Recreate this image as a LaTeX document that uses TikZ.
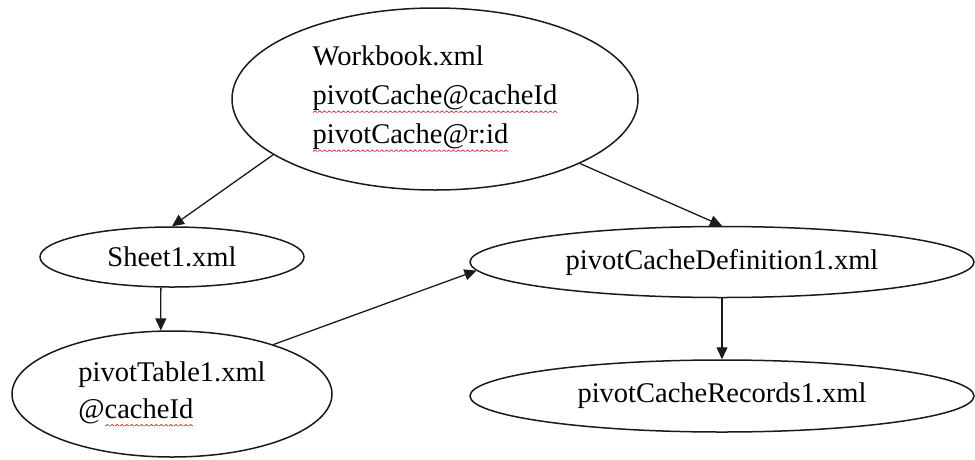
\documentclass[tikz,border=0pt]{standalone}
\usepackage{fontspec}
\setmainfont{Liberation Serif}
\usetikzlibrary{arrows.meta,shapes.geometric}
\definecolor{ink}{HTML}{1A1A1A}
\definecolor{squigred}{HTML}{D02828}
\newsavebox\wavebox
\AtBeginDocument{\sbox\wavebox{\begin{pgfpicture}\pgfsetcolor{squigred}\pgfsetlinewidth{0.7pt}%
  \pgfpathmoveto{\pgfpoint{0pt}{0pt}}\pgfpathlineto{\pgfpoint{2pt}{1.6pt}}\pgfpathlineto{\pgfpoint{4pt}{0pt}}%
  \pgfusepath{stroke}\end{pgfpicture}}}
\newcommand\squig[1]{\setbox0=\hbox{#1}\rlap{\lower8pt\hbox to \wd0{\xleaders\copy\wavebox\hfil}}\box0}
\tikzset{
  blob/.style={ellipse, draw=ink, line width=1.5pt, inner sep=0pt, align=left, font=\fontsize{28.5}{39}\selectfont},
  arr/.style={-{Triangle[length=12pt,width=11pt]}, line width=1.3pt, ink},
}

\begin{document}
\begin{tikzpicture}[x=1pt,y=-1pt]
  \useasboundingbox (0,0) rectangle (975,459);
  \node[blob, minimum width=406pt, minimum height=182pt] (wb) at (435,99) {Workbook.xml\\\squig{pivotCache@cacheId}\\\squig{pivotCache@r:id}};
  \node[blob, minimum width=264pt, minimum height=60pt] (sheet) at (172,257) {Sheet1.xml};
  \node[blob, minimum width=320pt, minimum height=126pt, font=\fontsize{28.5}{37}\selectfont] (ptab) at (172,394) {pivotTable1.xml\\@\squig{cacheId}};
  \node[blob, minimum width=504pt, minimum height=71pt] (pcd) at (722,262) {pivotCacheDefinition1.xml};
  \node[blob, minimum width=504pt, minimum height=72pt] (pcr) at (722,396) {pivotCacheRecords1.xml};
  \draw[arr] (wb.199) -- (sheet.north);
  \draw[arr] (wb.336) -- (pcd.north);
  \draw[arr] (sheet.250) -- (ptab.100);
  \draw[arr] (ptab.26) -- (pcd.182);
  \draw[arr] (pcd.south) -- (pcr.north);
\end{tikzpicture}
\end{document}
